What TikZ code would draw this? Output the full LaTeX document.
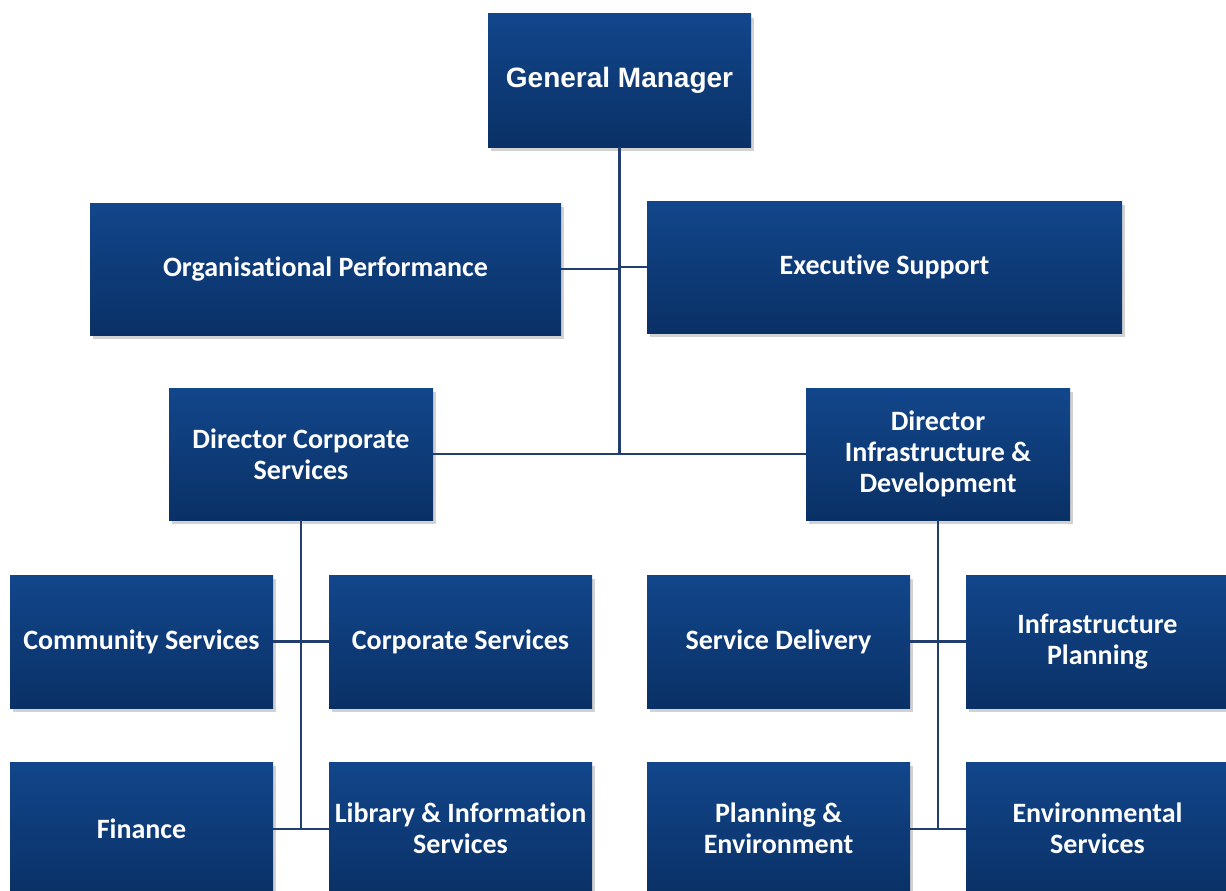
\documentclass[tikz,border=0pt]{standalone}
\usepackage{fontspec}
\setmainfont{Carlito}[Ligatures=NoCommon]
\newfontfamily\arialb{Liberation Sans}
\usetikzlibrary{shadows}
\definecolor{boxtop}{RGB}{18,70,139}
\definecolor{boxbot}{RGB}{10,49,102}
\definecolor{linkc}{RGB}{33,62,110}
\tikzset{
  orgbox/.style={rectangle, minimum width=263pt, minimum height=133pt, inner sep=0pt,
    top color=boxtop, bottom color=boxbot, text=white, align=center,
    font=\fontsize{28}{31}\selectfont\bfseries,
    drop shadow={shadow xshift=3pt, shadow yshift=-4pt, opacity=0.25, fill=black!70}},
  link/.style={draw=linkc, line width=2.4pt}
}
\begin{document}
\begin{tikzpicture}[x=1pt,y=-1pt]
\clip (0,0) rectangle (1226,891);
\fill[white] (0,0) rectangle (1226,891);
\node[orgbox, font=\arialb\fontsize{28}{33}\selectfont\bfseries] (gm) at (619.5,80.5) {General Manager};
\node[orgbox, minimum width=471pt, minimum height=132pt] (op) at (325.5,269) {Organisational Performance};
\node[orgbox, minimum width=475pt, minimum height=132pt] (es) at (884.5,267) {Executive Support};
\node[orgbox, minimum width=264pt, minimum height=132pt] (dcs) at (301,454) {Director Corporate\\Services};
\node[orgbox, minimum width=264pt, minimum height=132pt] (did) at (938,454) {Director\\Infrastructure \&\\Development};
\node[orgbox] (cms) at (141.5,641.5) {Community Services};
\node[orgbox] (cps) at (460.5,641.5) {Corporate Services};
\node[orgbox] (sd) at (778.5,641.5) {Service Delivery};
\node[orgbox] (ip) at (1097.5,641.5) {Infrastructure\\Planning};
\node[orgbox, anchor=north] (fin) at (141.5,762) {Finance};
\node[orgbox, anchor=north] (lib) at (460.5,762) {Library \& Information\\Services};
\node[orgbox, anchor=north] (pe) at (778.5,762) {Planning \&\\Environment};
\node[orgbox, anchor=north] (env) at (1097.5,762) {Environmental\\Services};
% connectors
\coordinate (hub) at (gm.south |- dcs.east);
\draw[link] (gm.south) -- (hub);
\draw[link] (op.east) -- (op.east -| gm.south);
\draw[link] (es.west) -- (es.west -| gm.south);
\draw[link] (dcs.east) -- (did.west);
\coordinate (lbot) at (dcs.south |- fin.west);
\coordinate (rbot) at (did.south |- env.west);
\draw[link] (dcs.south) -- (lbot);
\draw[link] (did.south) -- (rbot);
\draw[link] (cms.east) -- (cps.west);
\draw[link] (fin.east) -- (lib.west);
\draw[link] (sd.east) -- (ip.west);
\draw[link] (pe.east) -- (env.west);
\end{tikzpicture}
\end{document}
